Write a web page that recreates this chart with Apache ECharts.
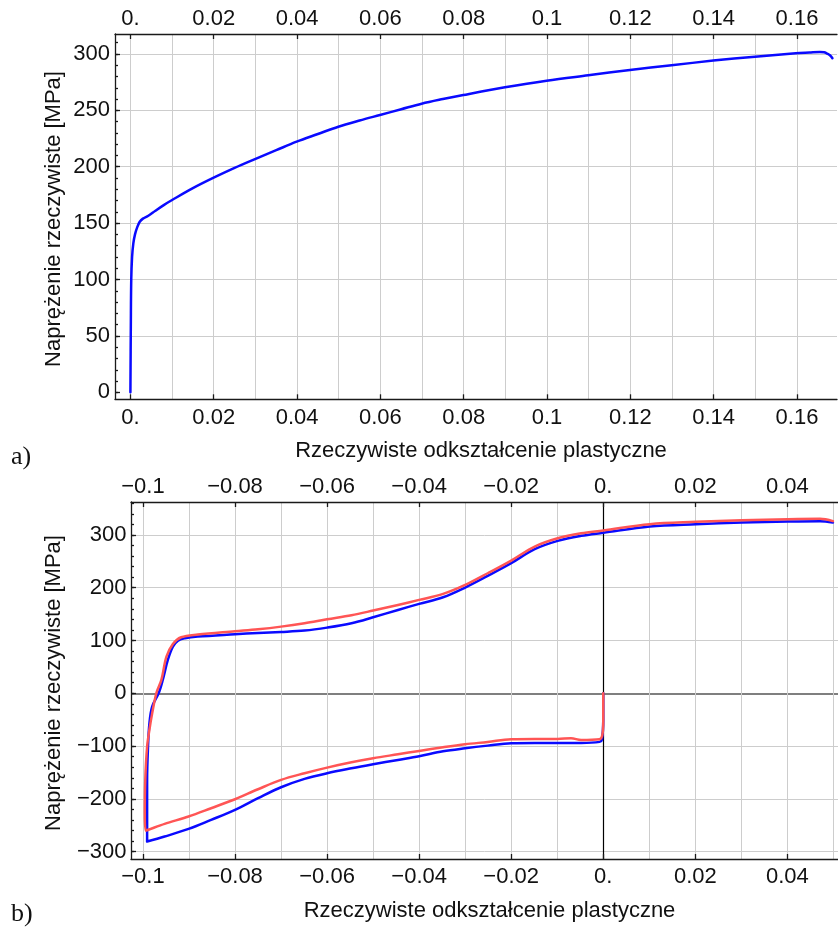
<!DOCTYPE html>
<html>
<head>
<meta charset="utf-8">
<script src="https://cdn.jsdelivr.net/npm/echarts@6/dist/echarts.min.js"></script>
<style>
  html, body { margin: 0; padding: 0; background: #ffffff; }
  #chart { width: 838px; height: 927px; }
</style>
</head>
<body>
<div id="chart"></div>
<script>
// ---- (a) monotonic tension: true stress vs true plastic strain ----
const strainA = [0, 0.0001, 0.0002, 0.0004, 0.0007, 0.0011, 0.0016, 0.0022, 0.0030, 0.0043,
  0.0060, 0.0080, 0.0101, 0.0150, 0.0201, 0.0250, 0.0299, 0.0350, 0.0399, 0.0450,
  0.0499, 0.0550, 0.0599, 0.0650, 0.0699, 0.0750, 0.0799, 0.0899, 0.0999, 0.1099,
  0.1199, 0.1299, 0.1399, 0.1499, 0.1597, 0.1630, 0.1655, 0.1665, 0.1671, 0.1679, 0.1685];
const stressA = [0, 60, 100, 120, 132, 140, 146, 151, 154, 156.5,
  161, 166, 170.7, 181, 190.5, 199, 206.8, 214.7, 222.2, 229,
  235.5, 241, 245.9, 251, 255.9, 260, 263.6, 270.4, 276.3, 281.1,
  285.8, 290, 294.1, 297.6, 300.6, 301.3, 301.8, 301.5, 300.6, 298.9, 296.2];

// ---- (b) compression followed by reverse tension, two specimens ----
const strainB1 = [0, 0, -0.0003, -0.0008, -0.0048, -0.0099, -0.0149, -0.0200, -0.0251, -0.0300,
  -0.0348, -0.0400, -0.0446, -0.0500, -0.0547, -0.0600, -0.0649, -0.0700, -0.0750, -0.0800,
  -0.0852, -0.0901, -0.0953, -0.0991, -0.0991, -0.0991, -0.0989, -0.0986, -0.0980, -0.0966,
  -0.0957, -0.0946, -0.0935, -0.0924, -0.0909, -0.0881, -0.0800, -0.0750, -0.0700, -0.0649,
  -0.0600, -0.0547, -0.0500, -0.0446, -0.0400, -0.0348, -0.0300, -0.0251, -0.0200, -0.0149,
  -0.0099, -0.0048, 0, 0.0101, 0.0201, 0.0301, 0.0401, 0.0471, 0.0499];
const stressB1 = [0, -50, -88, -92, -94, -94, -94, -94.6, -99.1, -104.1,
  -109.8, -119.2, -126.2, -134.4, -142, -151.4, -162.1, -177.9, -198.7, -220.8,
  -239.7, -256.8, -271.3, -280.8, -227, -164, -101, -56.8, -25, 0,
  25.3, 63.2, 88.4, 99.8, 104.2, 107.4, 111.8, 114.3, 116.2, 118.8,
  124.4, 132.7, 144, 157.9, 169.3, 181.9, 200.3, 222.4, 246.4, 272.9,
  288.7, 298.2, 304, 315.8, 320.3, 323.4, 325.3, 326, 323.4];

const strainB2 = [0, 0, -0.0002, -0.0008, -0.0048, -0.0070, -0.0099, -0.0149, -0.0200, -0.0251,
  -0.0300, -0.0348, -0.0400, -0.0446, -0.0500, -0.0547, -0.0600, -0.0649, -0.0700, -0.0750,
  -0.0800, -0.0852, -0.0901, -0.0953, -0.0994, -0.0996, -0.0995, -0.0991, -0.0986, -0.0980,
  -0.0971, -0.0960, -0.0949, -0.0935, -0.0917, -0.0881, -0.0800, -0.0750, -0.0700, -0.0649,
  -0.0600, -0.0547, -0.0500, -0.0446, -0.0400, -0.0348, -0.0300, -0.0251, -0.0200, -0.0149,
  -0.0099, -0.0048, 0, 0.0101, 0.0201, 0.0301, 0.0401, 0.0471, 0.0499];
const stressB2 = [0, -50, -79, -87, -88.3, -85.2, -86.4, -86.4, -87.1, -92.1,
  -96.5, -102.2, -109.1, -115.5, -123, -130.6, -140.7, -151.4, -164, -181.7,
  -200.6, -217.7, -233.4, -247.3, -260, -227, -164, -101, -69, -38,
  0, 25.3, 69.5, 93.5, 106.1, 111.2, 117.5, 121.3, 126.3, 132.7,
  140.2, 147.8, 156.7, 167.4, 176.9, 188.3, 205.3, 227.4, 251.4, 278,
  293.7, 303.2, 308.5, 320.3, 324.7, 327.8, 329.7, 330.4, 326];

// ---- tick labels and grid positions ----
const ticksAx = [0, 0.02, 0.04, 0.06, 0.08, 0.1, 0.12, 0.14, 0.16];
const gridAx = [0, 0.01, 0.02, 0.03, 0.04, 0.05, 0.06, 0.07, 0.08, 0.09, 0.1, 0.11, 0.12, 0.13, 0.14, 0.15, 0.16];
const ticksAy = [0, 50, 100, 150, 200, 250, 300];
const minorAy = [0, 10, 20, 30, 40, 50, 60, 70, 80, 90, 100, 110, 120, 130, 140, 150, 160,
  170, 180, 190, 200, 210, 220, 230, 240, 250, 260, 270, 280, 290, 300, 310];
const gridAy = [50, 100, 150, 200, 250, 300];

const ticksBx = [-0.1, -0.08, -0.06, -0.04, -0.02, 0, 0.02, 0.04];
const gridBx = [-0.1, -0.09, -0.08, -0.07, -0.06, -0.05, -0.04, -0.03, -0.02, -0.01, 0.01, 0.02, 0.03, 0.04, 0.05];
const ticksBy = [-300, -200, -100, 0, 100, 200, 300];
const minorBy = [-300, -280, -260, -240, -220, -200, -180, -160, -140, -120, -100, -80, -60, -40, -20, 0,
  20, 40, 60, 80, 100, 120, 140, 160, 180, 200, 220, 240, 260, 280, 300, 320, 340, 360];
const gridBy = [-300, -200, -100, 100, 200, 300];

const xTitle = 'Rzeczywiste odkształcenie plastyczne';
const yTitle = 'Naprężenie rzeczywiste [MPa]';

// ---- styling ----
const FONT = '"Liberation Sans", Arial, sans-serif';
const SERIF = '"Liberation Serif", "Times New Roman", serif';
const FRAME = { color: '#1a1a1a', width: 1.3 };
const GRIDLINE = { color: '#cdcdcd', width: 1 };

function fmtStrain(v) {
  if (Math.abs(v) < 1e-12) return '0.';
  return String(parseFloat(v.toFixed(6))).replace('-', '\u2212');
}
function fmtStress(v) {
  return String(Math.round(v)).replace('-', '\u2212');
}

// axis that carries the frame line, inward ticks and labels
function labelAxis(gridIndex, position, values, min, max, fmt, margin) {
  return {
    type: 'value', gridIndex, position, min, max,
    axisLine: { show: true, onZero: false, lineStyle: FRAME },
    axisTick: { show: true, inside: true, length: 5, customValues: values, lineStyle: FRAME },
    axisLabel: {
      show: true, customValues: values, formatter: fmt, margin,
      fontSize: 22, fontFamily: FONT, color: '#111', hideOverlap: false
    },
    splitLine: { show: false }, minorTick: { show: false }
  };
}
// axis that only draws short minor ticks
function minorAxis(gridIndex, position, values, min, max) {
  return {
    type: 'value', gridIndex, position, min, max,
    axisLine: { show: false, onZero: false },
    axisTick: { show: true, inside: true, length: 3, customValues: values, lineStyle: FRAME },
    axisLabel: { show: false }, splitLine: { show: false }
  };
}
// axis that only draws grid lines
function gridAxis(gridIndex, position, values, min, max, style) {
  return {
    type: 'value', gridIndex, position, min, max,
    axisLine: { show: false, onZero: false },
    axisTick: { show: false, customValues: values },
    axisLabel: { show: false, customValues: values },
    splitLine: { show: true, lineStyle: style }
  };
}

const xA = [-0.0037, 0.1696], yA = [-6.2, 317.7];
const xB = [-0.1026, 0.0510], yB = [-313.8, 362.3];

const zip = (xs, ys) => xs.map((x, i) => [x, ys[i]]);

function curve(xi, yi, data, color, z) {
  return {
    type: 'line', xAxisIndex: xi, yAxisIndex: yi, data,
    showSymbol: false, symbol: 'none', smooth: 0.35,
    lineStyle: { color, width: 2.5, cap: 'round', join: 'round' }, z
  };
}

const option = {
  animation: false,
  backgroundColor: '#ffffff',
  grid: [
    { left: 115, top: 34, width: 722, height: 365.3 },
    { left: 131, top: 502, width: 707, height: 357 }
  ],
  xAxis: [
    labelAxis(0, 'bottom', ticksAx, xA[0], xA[1], fmtStrain, 8),
    labelAxis(0, 'top', ticksAx, xA[0], xA[1], fmtStrain, 4),
    gridAxis(0, 'bottom', gridAx, xA[0], xA[1], GRIDLINE),
    labelAxis(1, 'bottom', ticksBx, xB[0], xB[1], fmtStrain, 7),
    labelAxis(1, 'top', ticksBx, xB[0], xB[1], fmtStrain, 4),
    gridAxis(1, 'bottom', gridBx, xB[0], xB[1], GRIDLINE),
    gridAxis(1, 'bottom', [0], xB[0], xB[1], { color: '#000000', width: 1.2 })
  ],
  yAxis: [
    labelAxis(0, 'left', ticksAy, yA[0], yA[1], fmtStress, 5),
    minorAxis(0, 'left', minorAy, yA[0], yA[1]),
    gridAxis(0, 'left', gridAy, yA[0], yA[1], GRIDLINE),
    labelAxis(1, 'left', ticksBy, yB[0], yB[1], fmtStress, 4.5),
    minorAxis(1, 'left', minorBy, yB[0], yB[1]),
    gridAxis(1, 'left', gridBy, yB[0], yB[1], GRIDLINE),
    gridAxis(1, 'left', [0], yB[0], yB[1], { color: '#555555', width: 1.6 })
  ],
  series: [
    curve(0, 0, zip(strainA, stressA), '#0a0aff', 5),
    curve(3, 3, zip(strainB1, stressB1), '#0a0aff', 5),
    curve(3, 3, zip(strainB2, stressB2), '#ff5555', 6)
  ],
  graphic: [
    { type: 'text', x: 481, y: 451, style: { text: xTitle, font: '22px ' + FONT, fill: '#111', align: 'center', verticalAlign: 'middle' } },
    { type: 'text', x: 489.5, y: 911, style: { text: xTitle, font: '22px ' + FONT, fill: '#111', align: 'center', verticalAlign: 'middle' } },
    { type: 'text', x: 54, y: 219, rotation: Math.PI / 2, style: { text: yTitle, font: '22px ' + FONT, fill: '#111', align: 'center', verticalAlign: 'middle' } },
    { type: 'text', x: 54, y: 683, rotation: Math.PI / 2, style: { text: yTitle, font: '22px ' + FONT, fill: '#111', align: 'center', verticalAlign: 'middle' } },
    { type: 'text', x: 11, y: 457, style: { text: 'a)', font: '26px ' + SERIF, fill: '#111', align: 'left', verticalAlign: 'middle' } },
    { type: 'text', x: 11, y: 914, style: { text: 'b)', font: '26px ' + SERIF, fill: '#111', align: 'left', verticalAlign: 'middle' } }
  ]
};

const chart = echarts.init(document.getElementById('chart'), null, { renderer: 'canvas' });
chart.setOption(option);
</script>
</body>
</html>
